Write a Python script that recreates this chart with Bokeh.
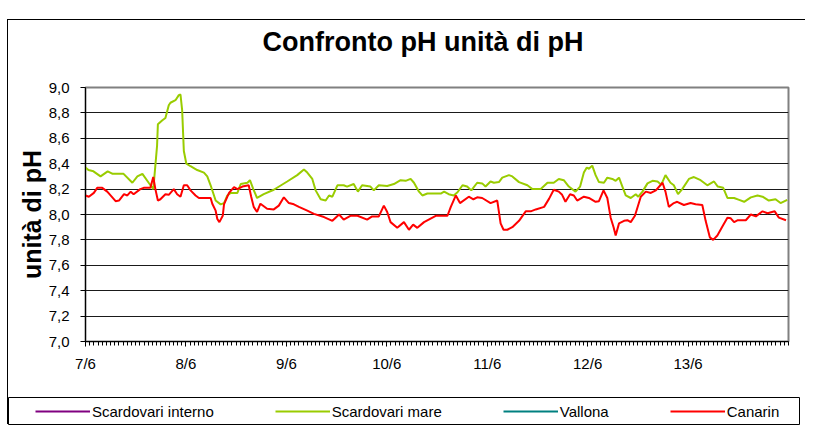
from bokeh.plotting import figure
from bokeh.models import Range1d, FixedTicker, Legend, LegendItem, Title
from bokeh.layouts import column
from bokeh.embed import file_html
from bokeh.resources import INLINE

NAN = float("nan")

# ---- data (hours from 7/6 00:00, pH) ----
# Scardovari interno and Vallona carry no readings in this chart (legend only)
interno_hours = [NAN]
interno_ph = [NAN]
vallona_hours = [NAN]
vallona_ph = [NAN]

mare_hours = [0.0, 0.7, 1.9, 3.6, 5.3, 6.5, 9.1, 11.2, 12.4, 13.6, 15.1, 16.2, 16.6, 17.1, 17.3,
              18.3, 19.1, 19.9, 20.3, 21.5, 22.3, 22.7, 23.1, 23.5, 24.1, 25.1, 26.7, 28.3, 29.1,
              29.9, 31.1, 32.3, 33.1, 33.9, 34.7, 36.3, 37.1, 38.7, 39.3, 40.1, 41.0, 42.6, 45.0,
              48.2, 50.6, 52.2, 53.0, 54.2, 55.0, 56.2, 57.4, 58.2, 59.0, 60.2, 61.7, 62.5, 64.1,
              65.1, 66.1, 68.1, 68.9, 70.1, 72.1, 73.7, 75.3, 76.5, 77.7, 78.5, 79.7, 80.5, 81.7,
              84.9, 85.7, 86.8, 88.0, 88.9, 90.1, 91.2, 92.2, 93.6, 94.8, 95.6, 96.8, 97.6, 98.8,
              99.6, 101.2, 102.0, 103.6, 105.6, 106.8, 108.8, 110.4, 111.9, 113.1, 114.3, 115.5,
              117.1, 118.2, 119.1, 119.8, 120.3, 121.1, 121.9, 122.7, 123.9, 124.7, 125.9, 126.7,
              127.5, 128.3, 129.1, 130.3, 131.5, 132.1, 133.1, 134.3, 135.5, 136.7, 137.6, 138.6,
              139.8, 140.6, 141.6, 142.6, 144.2, 145.4, 147.0, 148.6, 150.2, 151.1, 152.4, 153.4,
              155.0, 156.2, 157.4, 159.0, 160.6, 161.8, 163.3, 164.9, 166.1, 167.7]
mare_ph = [8.37, 8.35, 8.34, 8.30, 8.34, 8.32, 8.32, 8.25, 8.30, 8.32, 8.25, 8.20, 8.35, 8.54, 8.71,
           8.74, 8.76, 8.86, 8.88, 8.90, 8.94, 8.945, 8.82, 8.50, 8.40, 8.38, 8.35, 8.33, 8.30,
           8.23, 8.11, 8.08, 8.09, 8.15, 8.17, 8.17, 8.24, 8.25, 8.27, 8.20, 8.13, 8.16, 8.195,
           8.26, 8.31, 8.355, 8.33, 8.28, 8.19, 8.12, 8.11, 8.15, 8.14, 8.23, 8.23, 8.22, 8.24,
           8.18, 8.23, 8.22, 8.19, 8.23, 8.225, 8.24, 8.27, 8.265, 8.28, 8.25, 8.18, 8.15, 8.165,
           8.165, 8.18, 8.16, 8.15, 8.175, 8.23, 8.22, 8.19, 8.25, 8.245, 8.22, 8.26, 8.25, 8.255,
           8.29, 8.31, 8.30, 8.255, 8.23, 8.20, 8.20, 8.25, 8.25, 8.28, 8.27, 8.22,
           8.18, 8.22, 8.33, 8.37, 8.36, 8.385, 8.31, 8.255, 8.25, 8.29, 8.28, 8.265,
           8.29, 8.22, 8.15, 8.13, 8.16, 8.14, 8.18, 8.245, 8.265, 8.26, 8.235, 8.31,
           8.25, 8.23, 8.16, 8.20, 8.28, 8.295, 8.27, 8.23, 8.26, 8.22, 8.21, 8.13,
           8.13, 8.115, 8.10, 8.135, 8.15, 8.14, 8.11, 8.12, 8.09, 8.115]

canarin_hours = [0.0, 0.8, 2.0, 2.8, 4.0, 5.2, 7.2, 8.0, 9.2, 10.0, 10.8, 11.5, 13.1, 13.9, 15.5,
                 16.2, 16.7, 17.3, 17.9, 19.1, 19.9, 21.1, 21.9, 22.7, 23.5, 24.3, 25.1, 26.3, 27.1,
                 29.9, 30.3, 31.1, 31.5, 32.0, 32.8, 33.1, 34.3, 35.5, 36.3, 37.5, 39.0, 39.6, 40.2,
                 41.0, 41.8, 43.4, 45.0, 46.2, 47.4, 48.6, 49.8, 51.0, 53.0, 54.6, 57.0, 59.0, 60.6,
                 61.7, 63.3, 65.0, 67.3, 68.5, 70.1, 71.3, 72.1, 72.9, 74.5, 76.1, 77.3, 78.3, 79.3,
                 80.9, 83.7, 86.5, 87.3, 88.5, 89.5, 91.6, 92.7, 93.6, 94.8, 96.8, 98.4, 99.2, 99.9,
                 100.8, 102.0, 103.6, 105.2, 106.4, 107.6, 109.6, 110.8, 111.9, 113.1, 113.9, 114.7,
                 115.8, 116.7, 117.5, 119.1, 120.3, 121.9, 122.7, 123.8, 124.7, 125.5, 126.2, 126.7,
                 127.5, 128.7, 129.5, 130.3, 131.3, 132.7, 133.9, 135.1, 136.3, 137.9, 138.6, 139.4,
                 140.6, 141.4, 143.0, 144.6, 145.8, 147.4, 148.2, 149.2, 150.0, 151.0, 152.2, 153.4,
                 154.2, 155.0, 155.9, 157.8, 159.0, 160.2, 161.8, 163.0, 164.7, 165.7, 167.4]
canarin_ph = [8.15, 8.14, 8.17, 8.21, 8.21, 8.18, 8.105, 8.11, 8.16, 8.15, 8.18, 8.16, 8.20, 8.21, 8.21,
              8.295, 8.20, 8.11, 8.12, 8.16, 8.155, 8.20, 8.16, 8.14, 8.23, 8.23, 8.19, 8.15, 8.13,
              8.13, 8.085, 8.03, 7.965, 7.94, 7.99, 8.08, 8.17, 8.215, 8.20, 8.22, 8.23, 8.14, 8.06,
              8.02, 8.085, 8.045, 8.04, 8.07, 8.135, 8.09, 8.08, 8.06, 8.03, 8.005, 7.98, 7.95, 8.00,
              7.96, 7.99, 7.99, 7.96, 7.985, 7.985, 8.07, 8.02, 7.94, 7.895, 7.94, 7.88, 7.92, 7.895,
              7.94, 7.99, 7.99, 8.06, 8.15, 8.09, 8.14, 8.12, 8.135, 8.13, 8.09, 8.11, 7.93, 7.88,
              7.88, 7.90, 7.95, 8.025, 8.025, 8.04, 8.06, 8.125, 8.195, 8.18, 8.155, 8.10,
              8.16, 8.15, 8.11, 8.14, 8.13, 8.10, 8.105, 8.19, 8.13, 7.975, 7.90, 7.835,
              7.93, 7.95, 7.955, 7.94, 7.99, 8.14, 8.18, 8.17, 8.19, 8.25, 8.18, 8.06,
              8.09, 8.10, 8.075, 8.09, 8.08, 8.075, 7.95, 7.82, 7.80, 7.835, 7.905, 7.975,
              7.97, 7.94, 7.955, 7.955, 8.00, 7.985, 8.025, 8.01, 8.025, 7.975, 7.955]

series_names = ["Scardovari interno", "Scardovari mare", "Vallona", "Canarin"]
series_colors = ["#800080", "#99CC00", "#008080", "#FF0000"]
series_hours = [interno_hours, mare_hours, vallona_hours, canarin_hours]
series_ph = [interno_ph, mare_ph, vallona_ph, canarin_ph]

x_ticks = [0, 24, 48, 72, 96, 120, 144]
x_tick_labels = ["7/6", "8/6", "9/6", "10/6", "11/6", "12/6", "13/6"]
x_minor_ticks = list(range(0, 169))
y_ticks = [7.0, 7.2, 7.4, 7.6, 7.8, 8.0, 8.2, 8.4, 8.6, 8.8, 9.0]
y_tick_labels = ["7,0", "7,2", "7,4", "7,6", "7,8", "8,0", "8,2", "8,4", "8,6", "8,8", "9,0"]
title_text = "Confronto pH unità di pH"

FONT = "Liberation Sans"

# ---------------- title strip ----------------
t = figure(width=798, height=47, output_backend="svg", toolbar_location=None,
           x_axis_location=None, y_axis_location=None,
           x_range=Range1d(0, 1), y_range=Range1d(0, 1),
           min_border_left=0, min_border_right=0, min_border_top=36, min_border_bottom=0,
           title=None)
t.frame_align = False
t.grid.visible = False
t.outline_line_color = None
t.background_fill_color = "white"
t.border_fill_color = "white"
t.add_layout(Title(text=title_text, text_font=FONT, text_font_size="27px",
                   text_font_style="bold", text_color="black",
                   align="left", offset=254, standoff=0), "above")

# ---------------- main chart ----------------
p = figure(width=798, height=330, output_backend="svg", toolbar_location=None,
           x_range=Range1d(0, 168), y_range=Range1d(7.0, 9.0),
           min_border_left=77, min_border_right=18, min_border_top=20, min_border_bottom=56,
           title=None)
p.frame_align = False
p.background_fill_color = "white"
p.border_fill_color = "white"
p.outline_line_color = "#808080"
p.outline_line_width = 2

for hrs, ph, col in zip(series_hours, series_ph, series_colors):
    p.line(hrs, ph, line_color=col, line_width=2)

xa = p.below[0]   # bottom x axis
ya = p.left[0]    # left y axis

xa.ticker = FixedTicker(ticks=x_ticks, minor_ticks=x_minor_ticks)
xa.major_label_overrides = {t_: l for t_, l in zip(x_ticks, x_tick_labels)}
xa.major_tick_in = 0
xa.major_tick_out = 5
xa.minor_tick_in = 0
xa.minor_tick_out = 4
xa.axis_line_color = "black"
xa.major_tick_line_color = "black"
xa.minor_tick_line_color = "black"
xa.major_label_text_font = FONT
xa.major_label_text_font_size = "15px"
xa.major_label_text_color = "black"
xa.major_label_standoff = 8

ya.ticker = FixedTicker(ticks=y_ticks, minor_ticks=[])
ya.major_label_overrides = {t_: l for t_, l in zip(y_ticks, y_tick_labels)}
ya.major_tick_in = 0
ya.major_tick_out = 5
ya.minor_tick_line_color = None
ya.axis_line_color = "black"
ya.major_tick_line_color = "black"
ya.major_label_text_font = FONT
ya.major_label_text_font_size = "15px"
ya.major_label_text_color = "black"
ya.major_label_standoff = 11
ya.axis_label = "unità di pH"
ya.axis_label_text_font = FONT
ya.axis_label_text_font_size = "25px"
ya.axis_label_text_font_style = "bold"
ya.axis_label_text_color = "black"
ya.axis_label_standoff = 0

p.xgrid.visible = False
p.ygrid.ticker = FixedTicker(ticks=y_ticks)
p.ygrid.grid_line_color = "#1a1a1a"
p.ygrid.grid_line_width = 1

# ---------------- legend strip ----------------
lg = figure(width=792, height=28, output_backend="svg", toolbar_location=None,
            x_axis_location=None, y_axis_location=None,
            x_range=Range1d(0, 1), y_range=Range1d(0, 1),
            min_border_left=0, min_border_right=0, min_border_top=0, min_border_bottom=0)
lg.frame_align = False
lg.grid.visible = False
lg.background_fill_color = "white"
lg.border_fill_color = "white"
lg.outline_line_color = "black"
lg.outline_line_width = 1

legend_renderers = [lg.line(x=[NAN], y=[NAN], line_color=col, line_width=2)
                    for col in series_colors]
legend = Legend(items=[LegendItem(label=n, renderers=[r]) for n, r in
                       zip(series_names, legend_renderers)],
                orientation="horizontal", location=(27, 4),
                glyph_width=55, glyph_height=20, label_height=20, label_standoff=2,
                spacing=61, padding=0, margin=0,
                label_text_font=FONT, label_text_font_size="15px", label_text_color="black",
                border_line_color=None, background_fill_alpha=0)
lg.add_layout(legend, "center")

layout = column(t, p, lg, spacing=0)
layout.margin = (20, 0, 0, 8)
layout.styles = {"box-shadow": "-1px -1px 0 0 #000000"}

open("out.html", "w").write(file_html(layout, INLINE))
